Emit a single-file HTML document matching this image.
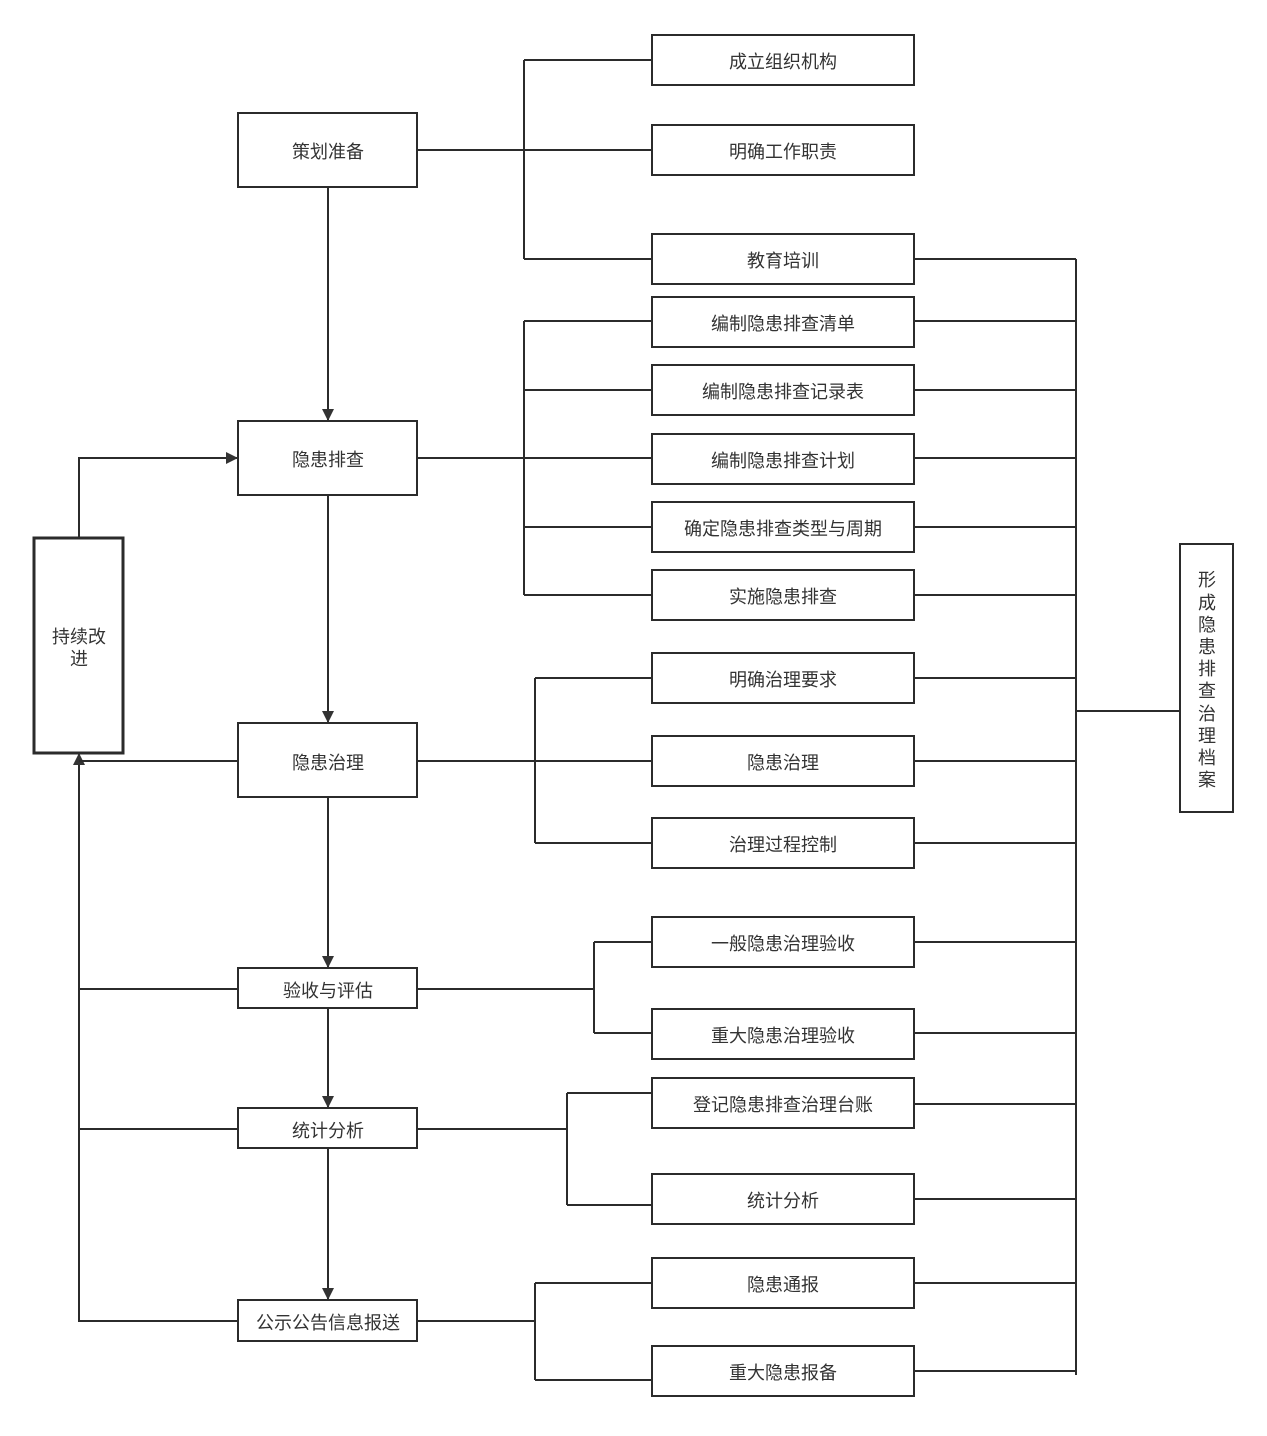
<!DOCTYPE html>
<html><head><meta charset="utf-8"><style>
html,body{margin:0;padding:0;background:#fff;}
svg text{font-family:"Liberation Sans","Noto Sans CJK SC",sans-serif;font-size:18px;fill:#333;}
</style></head><body>
<svg width="1267" height="1431" viewBox="0 0 1267 1431" xmlns="http://www.w3.org/2000/svg">
<defs><marker id="a" markerWidth="12" markerHeight="12" refX="11" refY="6" orient="auto" markerUnits="userSpaceOnUse"><path d="M0,0 L12,6 L0,12 z" fill="#333"/></marker></defs>
<g stroke="#2b2b2b" stroke-width="2" fill="none">
<rect x="238" y="113" width="179" height="74"/>
<rect x="238" y="421" width="179" height="74"/>
<rect x="238" y="723" width="179" height="74"/>
<rect x="238" y="968" width="179" height="40"/>
<rect x="238" y="1108" width="179" height="40"/>
<rect x="238" y="1300" width="179" height="41"/>
<rect x="34" y="538" width="89" height="215" stroke-width="3"/>
<rect x="1180" y="544" width="53" height="268"/>
<rect x="652" y="35" width="262" height="50"/>
<rect x="652" y="125" width="262" height="50"/>
<rect x="652" y="234" width="262" height="50"/>
<rect x="652" y="297" width="262" height="50"/>
<rect x="652" y="365" width="262" height="50"/>
<rect x="652" y="434" width="262" height="50"/>
<rect x="652" y="502" width="262" height="50"/>
<rect x="652" y="570" width="262" height="50"/>
<rect x="652" y="653" width="262" height="50"/>
<rect x="652" y="736" width="262" height="50"/>
<rect x="652" y="818" width="262" height="50"/>
<rect x="652" y="917" width="262" height="50"/>
<rect x="652" y="1009" width="262" height="50"/>
<rect x="652" y="1078" width="262" height="50"/>
<rect x="652" y="1174" width="262" height="50"/>
<rect x="652" y="1258" width="262" height="50"/>
<rect x="652" y="1346" width="262" height="50"/>
<line x1="328" y1="187" x2="328" y2="420" marker-end="url(#a)"/>
<line x1="328" y1="495" x2="328" y2="722" marker-end="url(#a)"/>
<line x1="328" y1="797" x2="328" y2="967" marker-end="url(#a)"/>
<line x1="328" y1="1008" x2="328" y2="1107" marker-end="url(#a)"/>
<line x1="328" y1="1148" x2="328" y2="1299" marker-end="url(#a)"/>
<path d="M417 150 H652 M524 60 V259 M524 60 H652 M524 259 H652"/>
<path d="M417 458 H652 M524 321 V595 M524 321 H652 M524 390 H652 M524 527 H652 M524 595 H652"/>
<path d="M417 761 H652 M535 678 V843 M535 678 H652 M535 843 H652"/>
<path d="M417 989 H594 M594 942 V1033 M594 942 H652 M594 1033 H652"/>
<path d="M417 1129 H567 M567 1093 V1205 M567 1093 H652 M567 1205 H652"/>
<path d="M417 1321 H535 M535 1283 V1380 M535 1283 H652 M535 1380 H652"/>
<path d="M1076 259 V1375 M914 259 H1076 M914 321 H1076 M914 390 H1076 M914 458 H1076 M914 527 H1076 M914 595 H1076 M914 678 H1076 M914 761 H1076 M914 843 H1076 M914 942 H1076 M914 1033 H1076 M914 1104 H1076 M914 1199 H1076 M914 1283 H1076 M914 1371 H1076 M1076 711 H1180"/>
<path d="M79 1322 V754" marker-end="url(#a)"/>
<path d="M238 761 H79 M238 989 H79 M238 1129 H79 M238 1321 H79"/>
<path d="M79 538 V458 H237" marker-end="url(#a)"/>
</g>
<g text-anchor="middle" dominant-baseline="central">
<text x="328" y="152">策划准备</text>
<text x="328" y="460">隐患排查</text>
<text x="328" y="763">隐患治理</text>
<text x="328" y="991">验收与评估</text>
<text x="328" y="1131">统计分析</text>
<text x="328" y="1323">公示公告信息报送</text>
<text x="79" y="637">持续改</text>
<text x="79" y="659">进</text>
<text x="783" y="62">成立组织机构</text>
<text x="783" y="152">明确工作职责</text>
<text x="783" y="261">教育培训</text>
<text x="783" y="324">编制隐患排查清单</text>
<text x="783" y="392">编制隐患排查记录表</text>
<text x="783" y="461">编制隐患排查计划</text>
<text x="783" y="529">确定隐患排查类型与周期</text>
<text x="783" y="597">实施隐患排查</text>
<text x="783" y="680">明确治理要求</text>
<text x="783" y="763">隐患治理</text>
<text x="783" y="845">治理过程控制</text>
<text x="783" y="944">一般隐患治理验收</text>
<text x="783" y="1036">重大隐患治理验收</text>
<text x="783" y="1105">登记隐患排查治理台账</text>
<text x="783" y="1201">统计分析</text>
<text x="783" y="1285">隐患通报</text>
<text x="783" y="1373">重大隐患报备</text>
<text x="1207" y="580">形</text>
<text x="1207" y="603">成</text>
<text x="1207" y="625">隐</text>
<text x="1207" y="647">患</text>
<text x="1207" y="669">排</text>
<text x="1207" y="691">查</text>
<text x="1207" y="714">治</text>
<text x="1207" y="736">理</text>
<text x="1207" y="758">档</text>
<text x="1207" y="780">案</text>
</g>
</svg>
</body></html>
